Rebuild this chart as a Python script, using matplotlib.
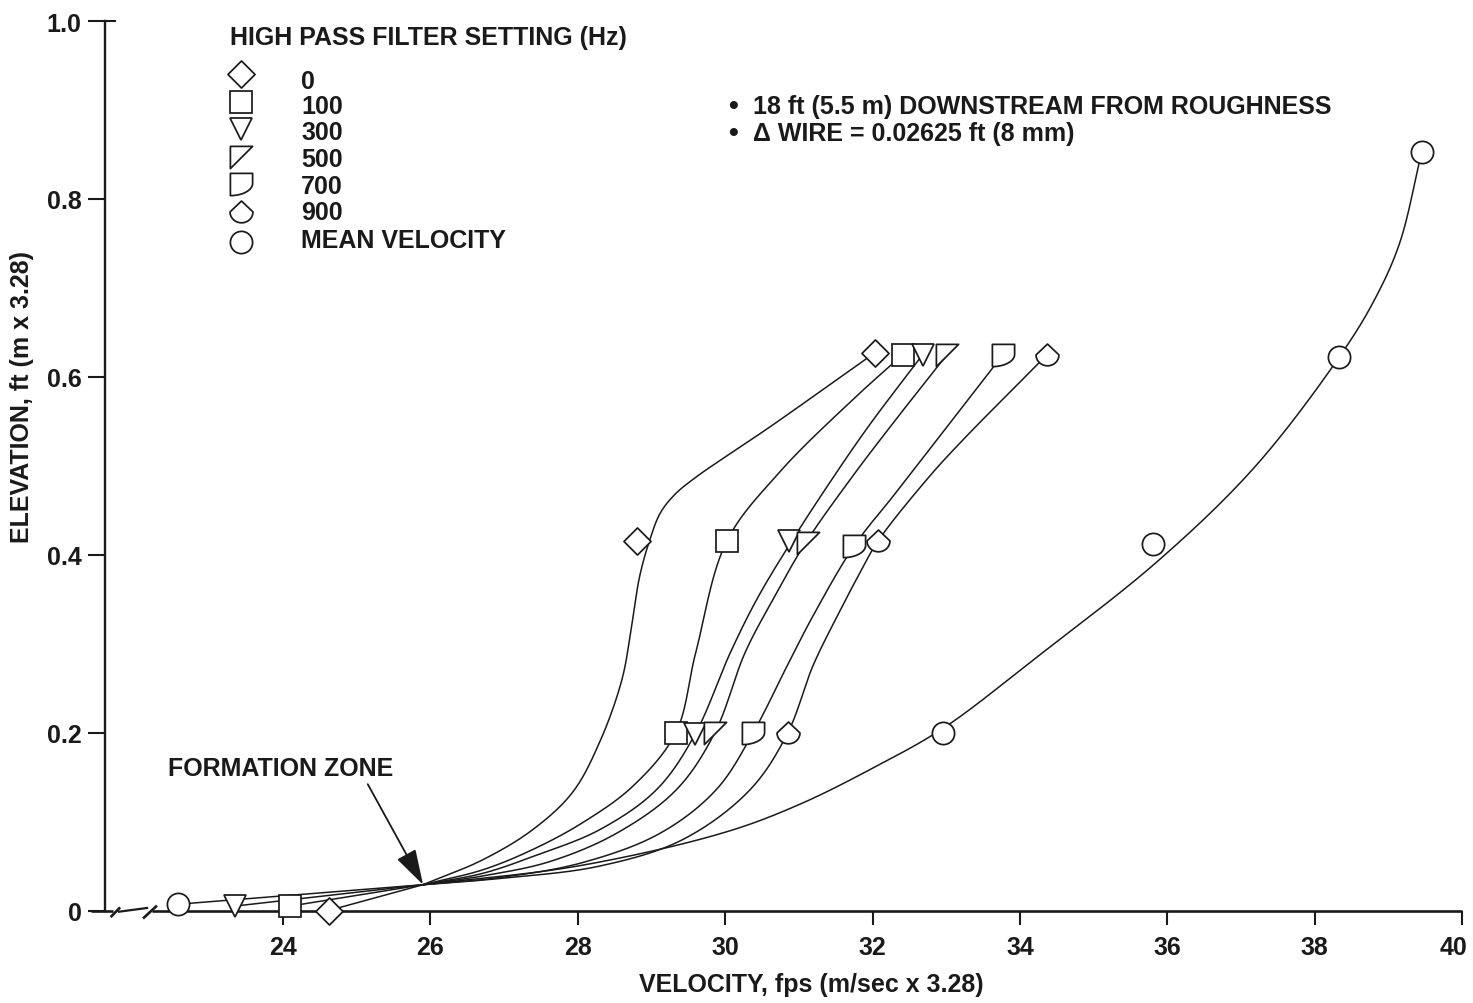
import numpy as np
import matplotlib
matplotlib.use("Agg")
import matplotlib.pyplot as plt
from matplotlib.path import Path
from matplotlib.transforms import ScaledTranslation

plt.rcParams['font.family'] = ['Liberation Sans', 'DejaVu Sans']
plt.rcParams['font.weight'] = 'bold'

# ---------------- data ----------------
# Measured points (velocity in fps, elevation in ft) per high-pass filter setting
hz0_vel = [24.62, 28.80, 32.03]
hz0_elev = [0.000, 0.415, 0.627]
hz100_vel = [24.10, 29.33, 30.02, 32.41]
hz100_elev = [0.005, 0.200, 0.415, 0.625]
hz300_vel = [23.35, 29.59, 30.86, 32.68]
hz300_elev = [0.005, 0.198, 0.415, 0.625]
hz500_vel = [29.86, 31.13, 33.01]
hz500_elev = [0.200, 0.413, 0.625]
hz700_vel = [30.38, 31.75, 33.77]
hz700_elev = [0.200, 0.410, 0.625]
hz900_vel = [30.85, 32.07, 34.37]
hz900_elev = [0.200, 0.415, 0.625]
mean_vel = [22.57, 32.96, 35.80, 38.33, 39.45]
mean_elev = [0.007, 0.200, 0.412, 0.622, 0.853]

# Point where all profiles converge
formation_zone = (25.90, 0.029)

# Faired profile curves above the formation zone
hz0_curve_vel = [26.71, 27.39, 27.93, 28.30, 28.60, 28.73, 28.84, 28.97, 29.12,
                 29.32, 29.60, 30.02, 30.56, 32.03]
hz0_curve_elev = [0.057, 0.091, 0.133, 0.190, 0.260, 0.320, 0.376, 0.415, 0.447,
                  0.468, 0.487, 0.511, 0.541, 0.627]
hz100_curve_vel = [26.72, 27.40, 28.07, 28.75, 29.33, 29.60, 30.02, 30.74, 31.74,
                   32.41]
hz100_curve_elev = [0.046, 0.069, 0.099, 0.140, 0.200, 0.290, 0.415, 0.493, 0.575,
                    0.625]
hz300_curve_vel = [26.72, 27.40, 28.30, 29.07, 29.59, 30.07, 30.43, 30.90, 31.45,
                   31.95, 32.68]
hz300_curve_elev = [0.042, 0.061, 0.091, 0.136, 0.198, 0.290, 0.350, 0.415, 0.485,
                    0.545, 0.625]
hz500_curve_vel = [26.72, 27.62, 28.53, 29.34, 29.86, 30.27, 30.65, 31.08, 31.70,
                   32.25, 33.01]
hz500_curve_elev = [0.039, 0.055, 0.087, 0.136, 0.200, 0.290, 0.350, 0.412, 0.485,
                    0.545, 0.625]
hz700_curve_vel = [26.94, 28.07, 29.12, 29.88, 30.38, 30.84, 31.19, 31.75, 32.28,
                   32.74, 33.77]
hz700_curve_elev = [0.037, 0.054, 0.087, 0.136, 0.200, 0.275, 0.331, 0.410, 0.466,
                    0.515, 0.625]
hz900_curve_vel = [26.94, 28.30, 29.43, 30.34, 30.85, 31.19, 31.52, 31.83, 32.07,
                   32.74, 33.19, 34.37]
hz900_curve_elev = [0.036, 0.050, 0.080, 0.136, 0.200, 0.275, 0.331, 0.380, 0.415,
                    0.485, 0.526, 0.625]
mean_curve_vel = [28.00, 30.00, 31.00, 32.00, 32.96, 34.20, 35.90, 37.20, 38.33,
                  38.80, 39.15, 39.45]
mean_curve_elev = [0.050, 0.088, 0.119, 0.160, 0.205, 0.283, 0.395, 0.500, 0.622,
                   0.685, 0.750, 0.853]

series_labels = ["0", "100", "300", "500", "700", "900", "MEAN VELOCITY"]
legend_title = "HIGH PASS FILTER SETTING (Hz)"
notes = ["18 ft (5.5 m) DOWNSTREAM FROM ROUGHNESS",
         "\u0394 WIRE = 0.02625 ft (8 mm)"]
x_ticks = [24, 26, 28, 30, 32, 34, 36, 38, 40]
y_ticks = [0, 0.2, 0.4, 0.6, 0.8, 1.0]
y_tick_labels = ["0", "0.2", "0.4", "0.6", "0.8", "1.0"]

# ---------------- marker shapes ----------------
def closed(verts):
    verts = list(verts) + [verts[0]]
    return Path(verts, closed=True)

diamond = closed([(0, 1), (1, 0), (0, -1), (-1, 0)])
wedge = closed([(-1, 1), (1, 1), (-1, -1)])
t = np.radians(np.linspace(0, -90, 20))
d_shape = closed([(-1, 1), (1, 1)] + list(zip(-1 + 2 * np.cos(t), 0.1 + 1.1 * np.sin(t))))
t = np.radians(np.linspace(0, -180, 30))
pent = closed([(0, 1)] + list(zip(np.cos(t), 0.05 + 0.95 * np.sin(t))))

W, H = 1473, 1004
fig = plt.figure(figsize=(W / 100, H / 100), dpi=100)
fig.patch.set_facecolor("white")
x_lo, x_hi = 21.40, 40.0
ax = fig.add_axes([91.4 / W, 1 - 911.5 / H, (1462.2 - 91.4) / W, 889.5 / H])
ax.set_xlim(x_lo, x_hi)
ax.set_ylim(0, 1.0)
ax.set_facecolor("none")

ink = "#1a1a1a"
lw_curve = 1.1
mew = 1.25

series = [
    (hz0_vel, hz0_elev, hz0_curve_vel, hz0_curve_elev, diamond, 19.5),
    (hz100_vel, hz100_elev, hz100_curve_vel, hz100_curve_elev, "s", 15.5),
    (hz300_vel, hz300_elev, hz300_curve_vel, hz300_curve_elev, "v", 16.5),
    (hz500_vel, hz500_elev, hz500_curve_vel, hz500_curve_elev, wedge, 16.0),
    (hz700_vel, hz700_elev, hz700_curve_vel, hz700_curve_elev, d_shape, 16.0),
    (hz900_vel, hz900_elev, hz900_curve_vel, hz900_curve_elev, pent, 16.5),
    (mean_vel, mean_elev, mean_curve_vel, mean_curve_elev, "o", 16.0),
]


def catmull_rom(pts, samples=30, alpha=0.5):
    P = np.asarray(pts, float)
    P = np.vstack([2 * P[0] - P[1], P, 2 * P[-1] - P[-2]])
    out = []
    for i in range(1, len(P) - 2):
        p0, p1, p2, p3 = P[i - 1], P[i], P[i + 1], P[i + 2]
        t0 = 0.0
        t1 = t0 + max(np.linalg.norm(p1 - p0), 1e-9) ** alpha
        t2 = t1 + max(np.linalg.norm(p2 - p1), 1e-9) ** alpha
        t3 = t2 + max(np.linalg.norm(p3 - p2), 1e-9) ** alpha
        tt = np.linspace(t1, t2, samples, endpoint=False)[:, None]
        A1 = (t1 - tt) / (t1 - t0) * p0 + (tt - t0) / (t1 - t0) * p1
        A2 = (t2 - tt) / (t2 - t1) * p1 + (tt - t1) / (t2 - t1) * p2
        A3 = (t3 - tt) / (t3 - t2) * p2 + (tt - t2) / (t3 - t2) * p3
        B1 = (t2 - tt) / (t2 - t0) * A1 + (tt - t0) / (t2 - t0) * A2
        B2 = (t3 - tt) / (t3 - t1) * A2 + (tt - t1) / (t3 - t1) * A3
        out.append((t2 - tt) / (t2 - t1) * B1 + (tt - t1) / (t2 - t1) * B2)
    out.append(P[-2][None, :])
    return np.vstack(out)


to_disp = ax.transData
to_data = ax.transData.inverted()

for vel, elev, cvel, celev, mk, ms in series:
    # faired curve from the formation zone upward, smoothed in display space
    pts = [formation_zone] + list(zip(cvel, celev))
    disp = to_disp.transform(pts)
    smooth = to_data.transform(catmull_rom(disp))
    ax.plot(smooth[:, 0], smooth[:, 1], color=ink, lw=lw_curve, zorder=2,
            solid_capstyle="round", solid_joinstyle="round")
    # near-bed points join the formation zone with straight segments
    if elev[0] < formation_zone[1]:
        ax.plot([vel[0], formation_zone[0]], [elev[0], formation_zone[1]],
                color=ink, lw=lw_curve, zorder=2)
    ax.plot(vel, elev, linestyle="none", marker=mk, markersize=ms,
            markerfacecolor="white", markeredgecolor=ink, markeredgewidth=mew,
            zorder=4, clip_on=False)

# ---------------- axes styling ----------------
y_axis_x = 21.585
for side in ("top", "right", "bottom"):
    ax.spines[side].set_visible(False)
ax.spines["left"].set_position(("data", y_axis_x))
ax.spines["left"].set_bounds(0, 1.0)
ax.spines["left"].set_linewidth(1.7)
ax.spines["left"].set_color(ink)

ax.set_xticks(x_ticks)
ax.set_xticklabels([str(v) for v in x_ticks])
ax.set_yticks(y_ticks)
ax.set_yticklabels(y_tick_labels)
ax.tick_params(axis="x", direction="out", length=10, width=1.5, pad=8,
               labelsize=18, colors=ink)
ax.tick_params(axis="y", direction="out", length=12, width=1.5, pad=5,
               labelsize=18, colors=ink)
# the last velocity label sits a little left of its tick, inside the page
last = ax.get_xticklabels()[-1]
last.set_transform(last.get_transform() + ScaledTranslation(-9 / 100, 0, fig.dpi_scale_trans))

# bottom axis line with a scale break near the origin
axis_kw = dict(color=ink, lw=1.9, clip_on=False, zorder=3, solid_capstyle="butt")
ax.plot([21.40, 21.69], [0, 0], **axis_kw)
ax.plot([21.66, 21.79], [-0.0075, 0.0035], **axis_kw)
ax.plot([21.76, 22.17], [-0.0015, 0.0030], color=ink, lw=1.6, clip_on=False,
        zorder=3, solid_capstyle="butt")
ax.plot([22.10, 22.29], [-0.009, 0.0055], **axis_kw)
ax.plot([22.22, 40.0], [0, 0], **axis_kw)
# cap at the top of the elevation axis
ax.plot([y_axis_x, y_axis_x + 0.14], [1.0, 1.0], color=ink, lw=1.5, clip_on=False)

fig.text(22 / W, 1 - 397 / H, "ELEVATION, ft (m x 3.28)", rotation=90,
         ha="center", va="center", fontsize=18, color=ink)
fig.text(811 / W, 1 - 985 / H, "VELOCITY, fps (m/sec x 3.28)",
         ha="center", va="center", fontsize=18, color=ink)

# ---------------- key ----------------
fig.text(230 / W, 1 - 38 / H, legend_title, ha="left", va="center",
         fontsize=18, color=ink)
key_marker_y = [75, 103, 130, 158, 185, 213, 243]
key_label_y = [82, 107, 133, 160, 187, 213, 241]
for (vel, elev, cvel, celev, mk, ms), lab, my, ly in zip(series, series_labels,
                                                        key_marker_y, key_label_y):
    ax.plot([241 / W], [1 - my / H], transform=fig.transFigure, linestyle="none",
            marker=mk, markersize=ms, markerfacecolor="white",
            markeredgecolor=ink, markeredgewidth=mew, clip_on=False)
    fig.text(301 / W, 1 - ly / H, lab, ha="left", va="center", fontsize=18,
             color=ink)

# ---------------- notes ----------------
for note, ny in zip(notes, [107, 134]):
    fig.text(733 / W, 1 - ny / H, "\u2022", ha="center", va="center",
             fontsize=20, color=ink)
    fig.text(753 / W, 1 - ny / H, note, ha="left", va="center", fontsize=18,
             color=ink)

# ---------------- formation zone callout ----------------
ax.text(22.44, 0.160, "FORMATION ZONE", ha="left", va="center", fontsize=18,
        color=ink)
ax.annotate("", xy=formation_zone, xytext=(25.15, 0.142),
            arrowprops=dict(arrowstyle="-|>,head_length=1.1,head_width=0.33",
                            mutation_scale=20, color=ink, lw=1.3,
                            shrinkA=0, shrinkB=0))

fig.savefig("out.png", dpi=100, facecolor="white")
